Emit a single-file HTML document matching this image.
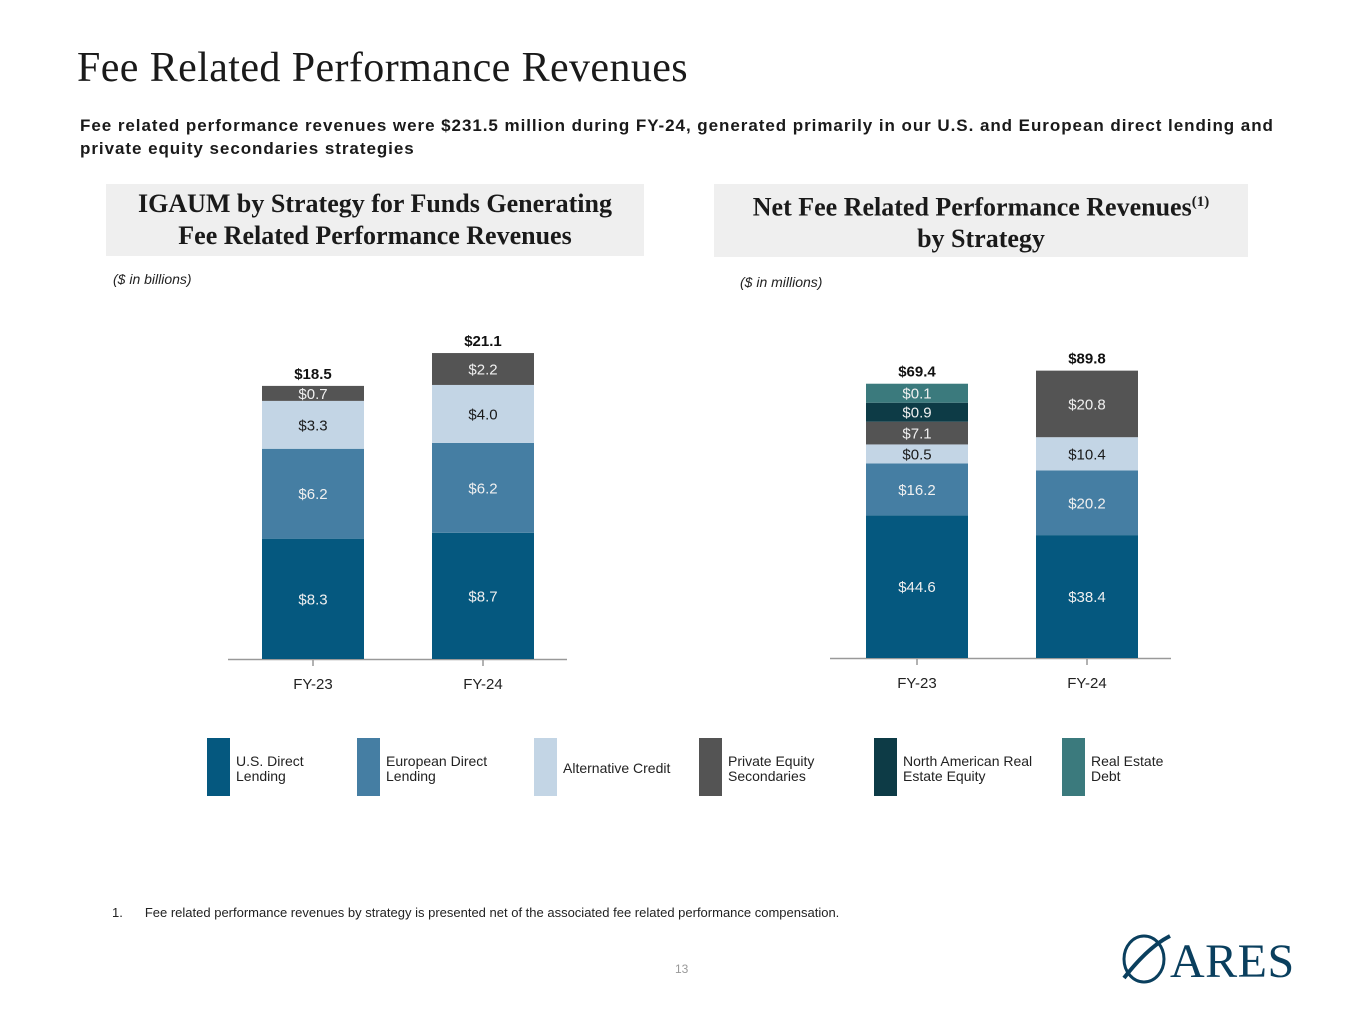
<!DOCTYPE html>
<html><head><meta charset="utf-8"><style>
body{margin:0;width:1365px;height:1024px;background:#fff;position:relative;font-family:"Liberation Sans",sans-serif;overflow:hidden}
.abs{position:absolute}
h1{position:absolute;left:77px;top:44px;margin:0;font:400 42px "Liberation Serif",serif;color:#1a1a1a;letter-spacing:0.4px}
.sub{left:80px;top:114px;width:1225px;font-weight:700;font-size:17px;line-height:23px;color:#1a1a1a;letter-spacing:0.95px}
.hdr{background:#efefef;text-align:center;font:700 26px/32px "Liberation Serif",serif;color:#1a1a1a;display:flex;align-items:center;justify-content:center}
.unit{font-style:italic;font-size:14px;color:#222}
.leg{font-size:14px;line-height:15px;color:#222}
.sw{width:23px;height:58px;top:738px}
</style></head><body>
<h1>Fee Related Performance Revenues</h1>
<div class="abs sub">Fee related performance revenues were $231.5 million during FY-24, generated primarily in our U.S. and European direct lending and private equity secondaries strategies</div>
<div class="abs hdr" style="left:106px;top:184px;width:538px;height:72px">IGAUM by Strategy for Funds Generating<br>Fee Related Performance Revenues</div>
<div class="abs hdr" style="left:714px;top:184px;width:534px;height:73px"><div>Net Fee Related Performance Revenues<sup style="font-size:15px">(1)</sup><br>by Strategy</div></div>
<div class="abs unit" style="left:113px;top:271px">($ in billions)</div>
<div class="abs unit" style="left:740px;top:274px">($ in millions)</div>
<svg id="chart" class="abs" style="left:0;top:0" width="1365" height="720"></svg>
<div id="legend"></div>
<div class="abs" style="left:112px;top:905px;font-size:13px;color:#222;white-space:nowrap">1.<span style="margin-left:22px">Fee related performance revenues by strategy is presented net of the associated fee related performance compensation.</span></div>
<div class="abs" style="left:675px;top:962px;font-size:12px;color:#999">13</div>
<div class="abs" style="left:1118px;top:930px;width:190px;height:56px">
<svg width="60" height="56" style="position:absolute;left:0;top:0"><ellipse cx="26" cy="29" rx="20" ry="23" fill="none" stroke="#0a3f5e" stroke-width="3"/><path d="M6 48 C20 30 36 14 52 6" stroke="#0a3f5e" stroke-width="4" fill="none"/></svg>
<div style="position:absolute;left:52px;top:4px;font:400 48px 'Liberation Serif',serif;color:#0a3f5e;letter-spacing:0.5px">ARES</div></div>
<script>
const categories=["FY-23","FY-24"];
const seriesNames=["U.S. Direct Lending","European Direct Lending","Alternative Credit","Private Equity Secondaries","North American Real Estate Equity","Real Estate Debt"];
const colors=["#05587f","#457ea3","#c3d5e5","#545454","#0d3b46","#3b7a7d"];
const leftUS=[8.3,8.7],leftEU=[6.2,6.2],leftAlt=[3.3,4.0],leftPE=[0.7,2.2];
const leftTotals=["$18.5","$21.1"];
const rightUS=[44.6,38.4],rightEU=[16.2,20.2],rightAlt=[0.5,10.4],rightPE=[7.1,20.8],rightNA=[0.9,0],rightRE=[0.1,0];
const rightTotals=["$69.4","$89.8"];
const NS="http://www.w3.org/2000/svg",svg=document.getElementById('chart');
function mk(t,a,name){const e=document.createElementNS(NS,t);for(const k in a)e.setAttribute(k,a[k]);


svg.appendChild(e);return e;}
function draw(cfg){
 const {series,totals,x0,x1,base,scale,minH,centers,prefix}=cfg;
 mk('line',{x1:x0,x2:x1,y1:base+0.5,y2:base+0.5,stroke:'#999','stroke-width':1.5},prefix+'x-axis');
 categories.forEach((c,i)=>{const cx=centers[i];
  mk('line',{x1:cx,x2:cx,y1:base,y2:base+7,stroke:'#999','stroke-width':1.5},prefix+'tick');
  const t=mk('text',{x:cx,y:base+30,'text-anchor':'middle','font-size':15,fill:'#222'},prefix+'x-label');t.textContent=c;
  let y=base;
  series.forEach((s,j)=>{const v=s[i];if(!v)return;const h=Math.max(v*scale,minH);y-=h;
   mk('rect',{x:cx-51,y:y,width:102,height:h,fill:colors[j]},prefix+'bar-'+c.toLowerCase()+'-s'+j);
   const tt=mk('text',{x:cx,y:y+h/2+5.5,'text-anchor':'middle','font-size':15,fill:j==2?'#1a1a1a':'#f0f0f0'},prefix+'value-label');tt.textContent='$'+v.toFixed(1);});
  const tl=mk('text',{x:cx,y:y-7,'text-anchor':'middle','font-size':15,'font-weight':700,fill:'#111'},prefix+'total-label');tl.textContent=totals[i];
 });
}
draw({series:[leftUS,leftEU,leftAlt,leftPE],totals:leftTotals,x0:228,x1:567,base:659,scale:14.5,minH:15,centers:[313,483],prefix:'left-'});
draw({series:[rightUS,rightEU,rightAlt,rightPE,rightNA,rightRE],totals:rightTotals,x0:830,x1:1171,base:658,scale:3.2,minH:19,centers:[917,1087],prefix:'right-'});
const legX=[207,357,534,699,874,1062];
const legLabels=["U.S. Direct<br>Lending","European Direct<br>Lending","Alternative Credit","Private Equity<br>Secondaries","North American Real<br>Estate Equity","Real Estate<br>Debt"];
const L=document.getElementById('legend');
legX.forEach((x,i)=>{
 const s=document.createElement('div');s.className='abs sw';s.style.left=x+'px';s.style.background=colors[i];
 
 
 L.appendChild(s);
 const t=document.createElement('div');t.className='abs leg';t.style.left=(x+29)+'px';t.style.top=(legLabels[i].includes('<br>')?754:761)+'px';t.innerHTML=legLabels[i];
 
 
 L.appendChild(t);
});
</script>
</body></html>
